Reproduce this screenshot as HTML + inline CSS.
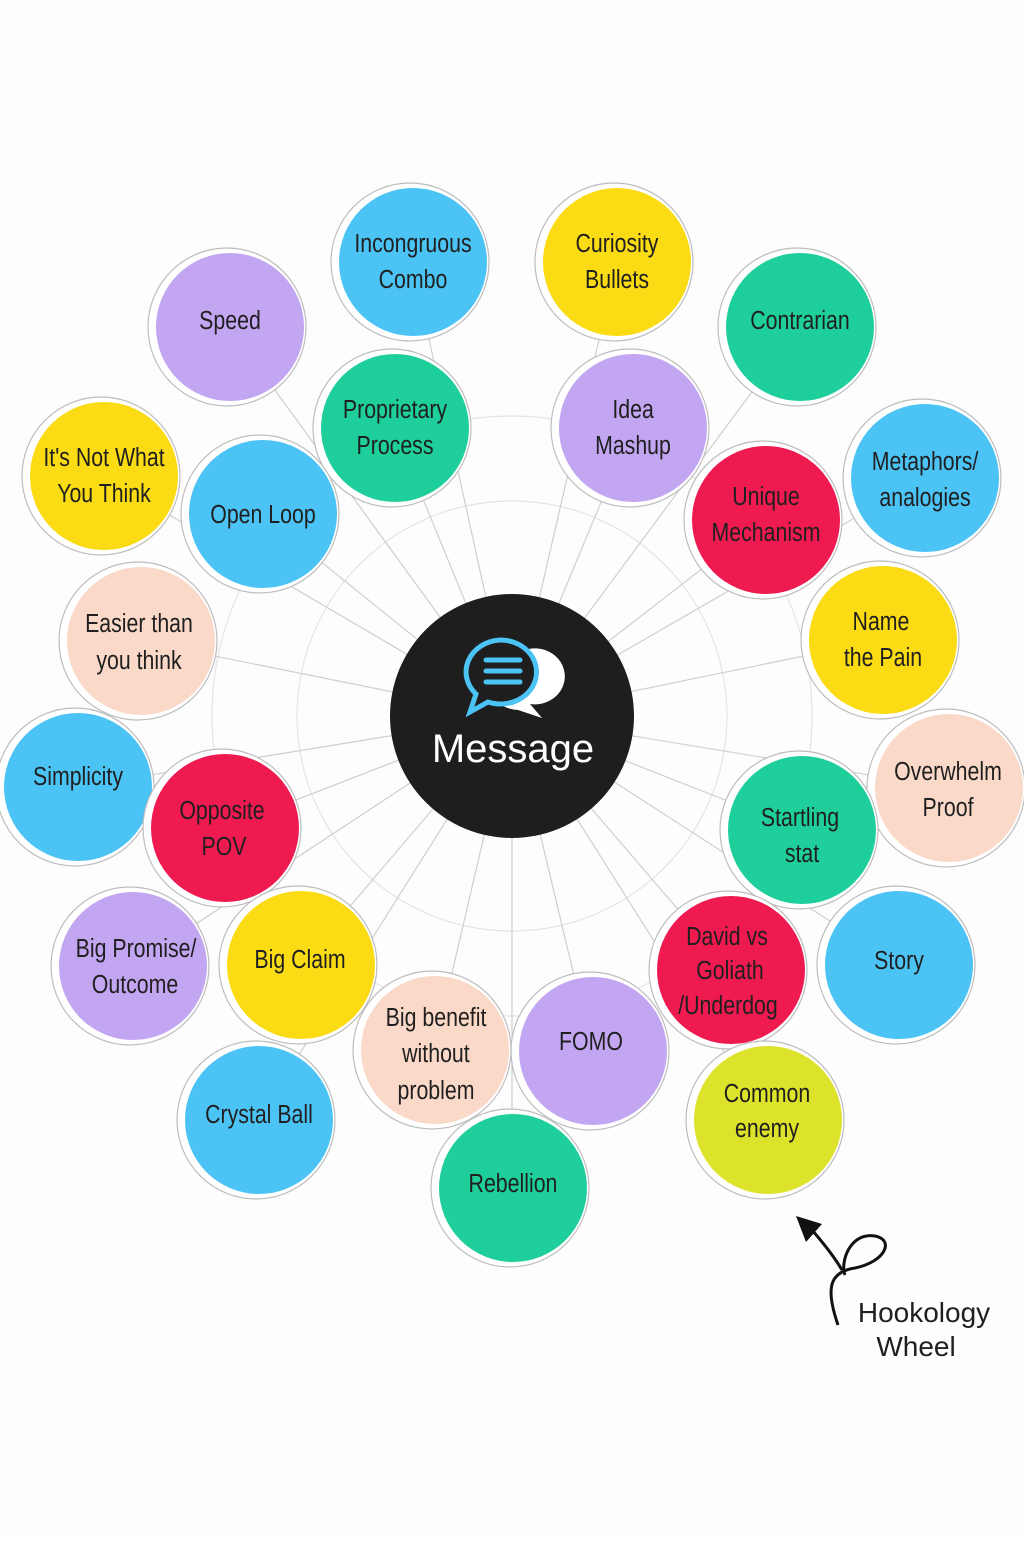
<!DOCTYPE html>
<html><head><meta charset="utf-8"><style>
html,body{margin:0;padding:0;background:#fff}
svg text{font-family:"Liberation Sans Narrow","Liberation Sans",sans-serif;font-size:26px;fill:#1f1f1f;text-anchor:middle}
svg g.lbl text{transform-box:fill-box;transform-origin:center;transform:scaleX(0.82)}
</style></head><body>
<svg width="1024" height="1536" viewBox="0 0 1024 1536" xmlns="http://www.w3.org/2000/svg">
<rect width="1024" height="1536" fill="#fdfdfe"/>
<g fill="none" stroke="#e4e4e4" stroke-width="1.2">
<circle cx="512" cy="716" r="215"/><circle cx="512" cy="716" r="300"/>
</g>
<g stroke="#cfcfcf" stroke-width="1.2">
<line x1="512" y1="716" x2="412" y2="262"/><line x1="512" y1="716" x2="617" y2="262"/>
<line x1="512" y1="716" x2="229" y2="327"/><line x1="512" y1="716" x2="800" y2="327"/>
<line x1="512" y1="716" x2="394" y2="428"/><line x1="512" y1="716" x2="632" y2="428"/>
<line x1="512" y1="716" x2="103" y2="476"/><line x1="512" y1="716" x2="262" y2="514"/>
<line x1="512" y1="716" x2="924" y2="478"/><line x1="512" y1="716" x2="765" y2="520"/>
<line x1="512" y1="716" x2="140" y2="641"/><line x1="512" y1="716" x2="882" y2="640"/>
<line x1="512" y1="716" x2="77" y2="787"/><line x1="512" y1="716" x2="224" y2="828"/>
<line x1="512" y1="716" x2="948" y2="788"/><line x1="512" y1="716" x2="801" y2="830"/>
<line x1="512" y1="716" x2="132" y2="966"/><line x1="512" y1="716" x2="300" y2="965"/>
<line x1="512" y1="716" x2="730" y2="970"/><line x1="512" y1="716" x2="898" y2="965"/>
<line x1="512" y1="716" x2="434" y2="1050"/><line x1="512" y1="716" x2="592" y2="1051"/>
<line x1="512" y1="716" x2="767" y2="1120"/><line x1="512" y1="716" x2="258" y2="1120"/>
<line x1="512" y1="716" x2="512" y2="1188"/>
</g>
<g stroke="#bdbdbd" stroke-width="1.2">
<g><circle cx="410" cy="262" r="79" fill="#fff"/><circle cx="413" cy="262" r="74" fill="#4cc3f5" stroke="none"/></g>
<g><circle cx="614" cy="262" r="79" fill="#fff"/><circle cx="617" cy="262" r="74" fill="#fadb14" stroke="none"/></g>
<g><circle cx="227" cy="327" r="79" fill="#fff"/><circle cx="230" cy="327" r="74" fill="#c3a6f2" stroke="none"/></g>
<g><circle cx="797" cy="327" r="79" fill="#fff"/><circle cx="800" cy="327" r="74" fill="#1ecf9c" stroke="none"/></g>
<g><circle cx="392" cy="428" r="79" fill="#fff"/><circle cx="395" cy="428" r="74" fill="#1ecf9c" stroke="none"/></g>
<g><circle cx="630" cy="428" r="79" fill="#fff"/><circle cx="633" cy="428" r="74" fill="#c3a6f2" stroke="none"/></g>
<g><circle cx="101" cy="476" r="79" fill="#fff"/><circle cx="104" cy="476" r="74" fill="#fadb14" stroke="none"/></g>
<g><circle cx="922" cy="478" r="79" fill="#fff"/><circle cx="925" cy="478" r="74" fill="#4cc3f5" stroke="none"/></g>
<g><circle cx="260" cy="514" r="79" fill="#fff"/><circle cx="263" cy="514" r="74" fill="#4cc3f5" stroke="none"/></g>
<g><circle cx="763" cy="520" r="79" fill="#fff"/><circle cx="766" cy="520" r="74" fill="#ef1a4f" stroke="none"/></g>
<g><circle cx="138" cy="641" r="79" fill="#fff"/><circle cx="141" cy="641" r="74" fill="#fbd9c9" stroke="none"/></g>
<g><circle cx="880" cy="640" r="79" fill="#fff"/><circle cx="883" cy="640" r="74" fill="#fadb14" stroke="none"/></g>
<g><circle cx="75" cy="787" r="79" fill="#fff"/><circle cx="78" cy="787" r="74" fill="#4cc3f5" stroke="none"/></g>
<g><circle cx="946" cy="788" r="79" fill="#fff"/><circle cx="949" cy="788" r="74" fill="#fbd9c9" stroke="none"/></g>
<g><circle cx="222" cy="828" r="79" fill="#fff"/><circle cx="225" cy="828" r="74" fill="#ef1a4f" stroke="none"/></g>
<g><circle cx="799" cy="830" r="79" fill="#fff"/><circle cx="802" cy="830" r="74" fill="#1ecf9c" stroke="none"/></g>
<g><circle cx="130" cy="966" r="79" fill="#fff"/><circle cx="133" cy="966" r="74" fill="#c3a6f2" stroke="none"/></g>
<g><circle cx="298" cy="965" r="79" fill="#fff"/><circle cx="301" cy="965" r="74" fill="#fadb14" stroke="none"/></g>
<g><circle cx="896" cy="965" r="79" fill="#fff"/><circle cx="899" cy="965" r="74" fill="#4cc3f5" stroke="none"/></g>
<g><circle cx="728" cy="970" r="79" fill="#fff"/><circle cx="731" cy="970" r="74" fill="#ef1a4f" stroke="none"/></g>
<g><circle cx="590" cy="1051" r="79" fill="#fff"/><circle cx="593" cy="1051" r="74" fill="#c3a6f2" stroke="none"/></g>
<g><circle cx="432" cy="1050" r="79" fill="#fff"/><circle cx="435" cy="1050" r="74" fill="#fbd9c9" stroke="none"/></g>
<g><circle cx="765" cy="1120" r="79" fill="#fff"/><circle cx="768" cy="1120" r="74" fill="#dde22a" stroke="none"/></g>
<g><circle cx="256" cy="1120" r="79" fill="#fff"/><circle cx="259" cy="1120" r="74" fill="#4cc3f5" stroke="none"/></g>
<g><circle cx="510" cy="1188" r="79" fill="#fff"/><circle cx="513" cy="1188" r="74" fill="#1ecf9c" stroke="none"/></g>
</g>
<circle cx="512" cy="716" r="122" fill="#1e1e1e"/>
<path d="M520 652 a30 28 0 1 1 10 52 l12 14 l-24 -8 a30 28 0 0 1 2 -58z" fill="#fff"/>
<path d="M500 640 a36 32 0 1 1 -12 62 l-18 10 l6 -18 a36 32 0 0 1 24 -54z" fill="#1e1e1e" stroke="#4cc3f5" stroke-width="5"/>
<g stroke="#4cc3f5" stroke-width="5" stroke-linecap="round"><line x1="486" y1="660" x2="520" y2="660"/><line x1="486" y1="671" x2="520" y2="671"/><line x1="486" y1="682" x2="520" y2="682"/></g>
<text x="513" y="762" style="font-family:'Liberation Sans',sans-serif;font-size:40px;fill:#fff">Message</text>
<g class="lbl">
<text x="413" y="252">Incongruous</text><text x="413" y="288">Combo</text>
<text x="617" y="252">Curiosity</text><text x="617" y="288">Bullets</text>
<text x="230" y="329">Speed</text>
<text x="800" y="329">Contrarian</text>
<text x="395" y="418">Proprietary</text><text x="395" y="454">Process</text>
<text x="633" y="418">Idea</text><text x="633" y="454">Mashup</text>
<text x="104" y="466">It's Not What</text><text x="104" y="502">You Think</text>
<text x="925" y="470">Metaphors/</text><text x="925" y="506">analogies</text>
<text x="263" y="523">Open Loop</text>
<text x="766" y="505">Unique</text><text x="766" y="541">Mechanism</text>
<text x="139" y="632">Easier than</text><text x="139" y="669">you think</text>
<text x="881" y="630">Name</text><text x="883" y="666">the Pain</text>
<text x="78" y="785">Simplicity</text>
<text x="948" y="780">Overwhelm</text><text x="948" y="816">Proof</text>
<text x="222" y="819">Opposite</text><text x="224" y="855">POV</text>
<text x="800" y="826">Startling</text><text x="802" y="862">stat</text>
<text x="136" y="957">Big Promise/</text><text x="135" y="993">Outcome</text>
<text x="300" y="968">Big Claim</text>
<text x="899" y="969">Story</text>
<text x="727" y="945">David vs</text><text x="730" y="979">Goliath</text><text x="728" y="1014">/Underdog</text>
<text x="591" y="1050">FOMO</text>
<text x="436" y="1026">Big benefit</text><text x="436" y="1062">without</text><text x="436" y="1099">problem</text>
<text x="767" y="1102">Common</text><text x="767" y="1137">enemy</text>
<text x="259" y="1123">Crystal Ball</text>
<text x="513" y="1192">Rebellion</text>
</g>
<path d="M838 1325 C 826 1290 828 1272 855 1268 C 885 1262 895 1240 875 1236 C 850 1232 840 1262 845 1275 M 842 1270 C 835 1258 825 1245 812 1230" fill="none" stroke="#111" stroke-width="3"/>
<path d="M796 1216 L822 1224 L806 1242 Z" fill="#111"/>
<text x="924" y="1322" style="font-family:'Liberation Sans',sans-serif;font-size:28px">Hookology</text>
<text x="916" y="1356" style="font-family:'Liberation Sans',sans-serif;font-size:28px">Wheel</text>
</svg>
</body></html>
